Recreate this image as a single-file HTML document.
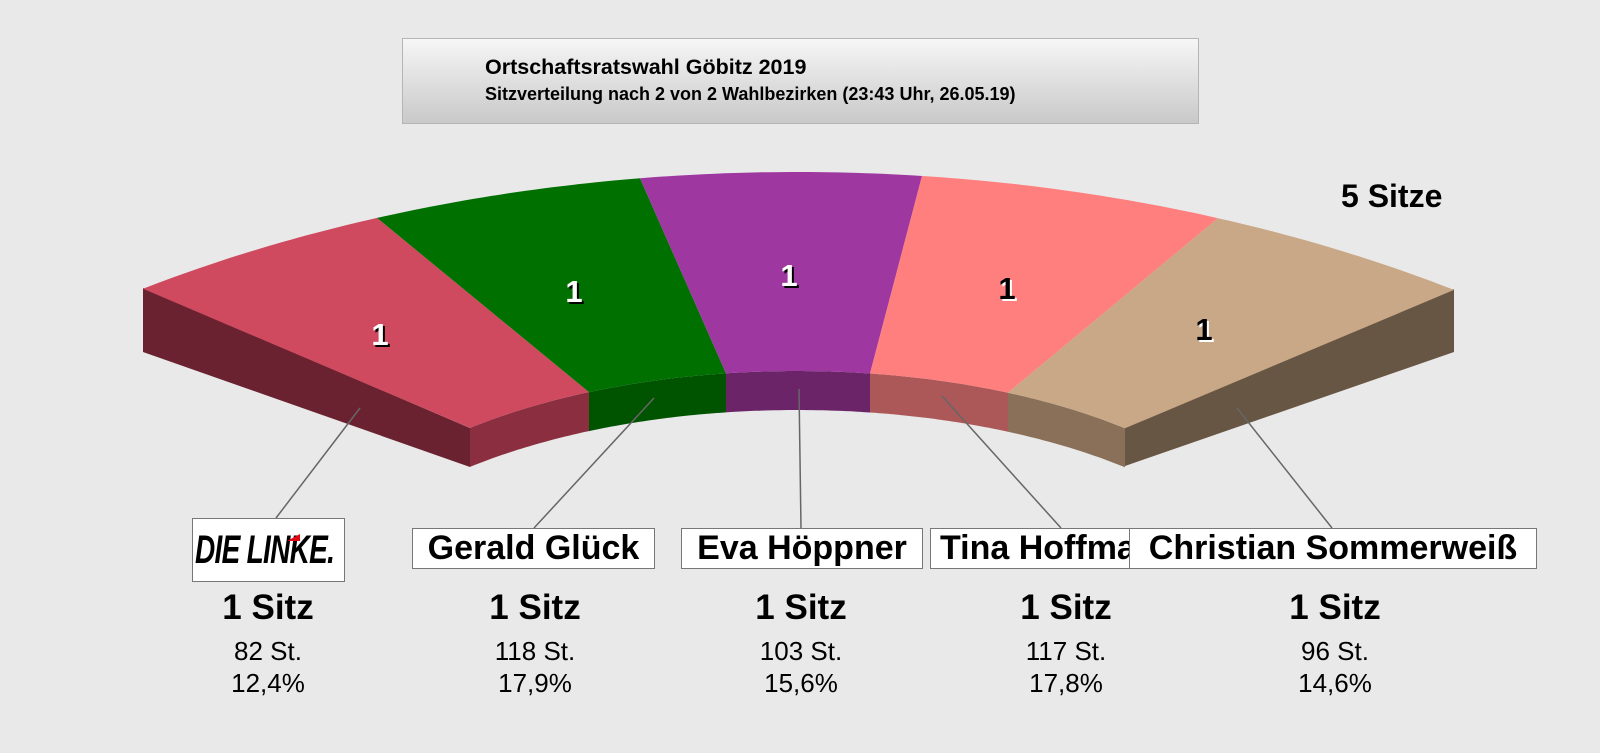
<!DOCTYPE html>
<html><head><meta charset="utf-8"><style>
body{margin:0;background:#e9e9e9;width:1600px;height:753px;overflow:hidden;font-family:"Liberation Sans",Arial,sans-serif;position:relative}
.t{position:absolute;left:402px;top:38px;width:795px;height:84px;border:1px solid #b5b5b5;background:linear-gradient(#f6f6f6,#c9c9c9)}
.t div{position:absolute;left:82px;font-weight:bold;color:#000}
.box{position:absolute;background:#fff;border:1px solid #777;font-weight:bold;font-size:34px;line-height:39px;height:39px;white-space:nowrap;overflow:hidden;text-align:center}
.c{position:absolute;width:200px;text-align:center}
</style></head><body>
<div class="t"><div style="top:16px;font-size:21.5px">Ortschaftsratswahl Göbitz 2019</div><div style="top:45px;font-size:18px">Sitzverteilung nach 2 von 2 Wahlbezirken (23:43 Uhr, 26.05.19)</div></div>
<div style="position:absolute;left:1341px;top:178px;font-weight:bold;font-size:32px">5 Sitze</div>
<svg id="s" width="1600" height="753" style="position:absolute;left:0;top:0"></svg>
<div class="box" style="left:192px;top:518px;width:151px;height:62px;"><div style="position:absolute;left:2px;top:11px;font-style:italic;font-size:40px;line-height:40px;letter-spacing:-1px;transform:scaleX(0.7);transform-origin:left;">DIE LINKE.</div><span style="position:absolute;left:94px;top:15px;width:0;height:0;border-left:13px solid transparent;border-bottom:7px solid #e30613"></span></div>
<div class="box" style="left:412px;top:528px;width:241px">Gerald Glück</div>
<div class="box" style="left:681px;top:528px;width:240px">Eva Höppner</div>
<div class="box" style="left:930px;top:528px;width:215px;text-align:left;padding-left:9px">Tina Hoffmann</div>
<div class="box" style="left:1129px;top:528px;width:406px">Christian Sommerweiß</div>
<div id="cols"></div>
<script>
var s=document.getElementById('s'),h='';
function yo(d){return 962-790*Math.sqrt(1-Math.pow(d/1250,2));}
function yi(d){return 594-223*Math.sqrt(1-Math.pow(d/490,2));}
var C=797,od=[-654,-420,-157,125,421,657],idd=[-327,-208,-71,73,211,328];
var tc=['#cf4a5f','#007000','#9e37a0','#ff7f7f','#c8a887'],wc=['#8b2f40','#005400','#6b2468','#ad5858','#8a7058'];
function arc(f,a,b,dy){var p=[],n=30;for(var i=0;i<=n;i++){var d=a+(b-a)*i/n;p.push((C+d).toFixed(1)+','+(f(d)+dy).toFixed(1));}return p;}
h+='<polygon fill="#6a2231" points="143,288 470,428 470,467 143,352"/>';
h+='<polygon fill="#675643" points="1454,289 1125,427 1125,466 1454,352"/>';
for(var k=0;k<5;k++){
 var a=arc(yi,idd[k],idd[k+1],0),b=arc(yi,idd[k],idd[k+1],39).reverse();
 h+='<polygon fill="'+wc[k]+'" points="'+a.concat(b).join(' ')+'"/>';
}
for(var k=0;k<5;k++){
 var a=arc(yo,od[k],od[k+1],0),b=arc(yi,idd[k],idd[k+1],0).reverse();
 h+='<polygon fill="'+tc[k]+'" points="'+a.concat(b).join(' ')+'"/>';
}
var L=[[360,408,276,518],[654,398,534,528],[799,389,801,528],[942,396,1061,528],[1237,408,1332,528]];
L.forEach(function(l){h+='<line x1="'+l[0]+'" y1="'+l[1]+'" x2="'+l[2]+'" y2="'+l[3]+'" stroke="#666" stroke-width="1.5"/>';});
var N=[[380,345,1],[574,302,1],[789,286,1],[1007,299,0],[1204,340,0]];
N.forEach(function(n){var f=n[2]?'#fff':'#000',sh=n[2]?'#000':'#fff';
 h+='<text x="'+(n[0]+2)+'" y="'+(n[1]+2)+'" fill="'+sh+'" font-family="Liberation Sans" font-weight="bold" font-size="31" text-anchor="middle">1</text>';
 h+='<text x="'+n[0]+'" y="'+n[1]+'" fill="'+f+'" font-family="Liberation Sans" font-weight="bold" font-size="31" text-anchor="middle">1</text>';});
s.innerHTML=h;
var D=[[268,'82 St.','12,4%'],[535,'118 St.','17,9%'],[801,'103 St.','15,6%'],[1066,'117 St.','17,8%'],[1335,'96 St.','14,6%']],c='';
D.forEach(function(d){c+='<div class="c" style="left:'+(d[0]-100)+'px;top:588px;font-weight:bold;font-size:35px">1 Sitz</div>'+
'<div class="c" style="left:'+(d[0]-100)+'px;top:636px;font-size:26px">'+d[1]+'</div>'+
'<div class="c" style="left:'+(d[0]-100)+'px;top:668px;font-size:26px">'+d[2]+'</div>';});
document.getElementById('cols').innerHTML=c;
</script>
</body></html>
